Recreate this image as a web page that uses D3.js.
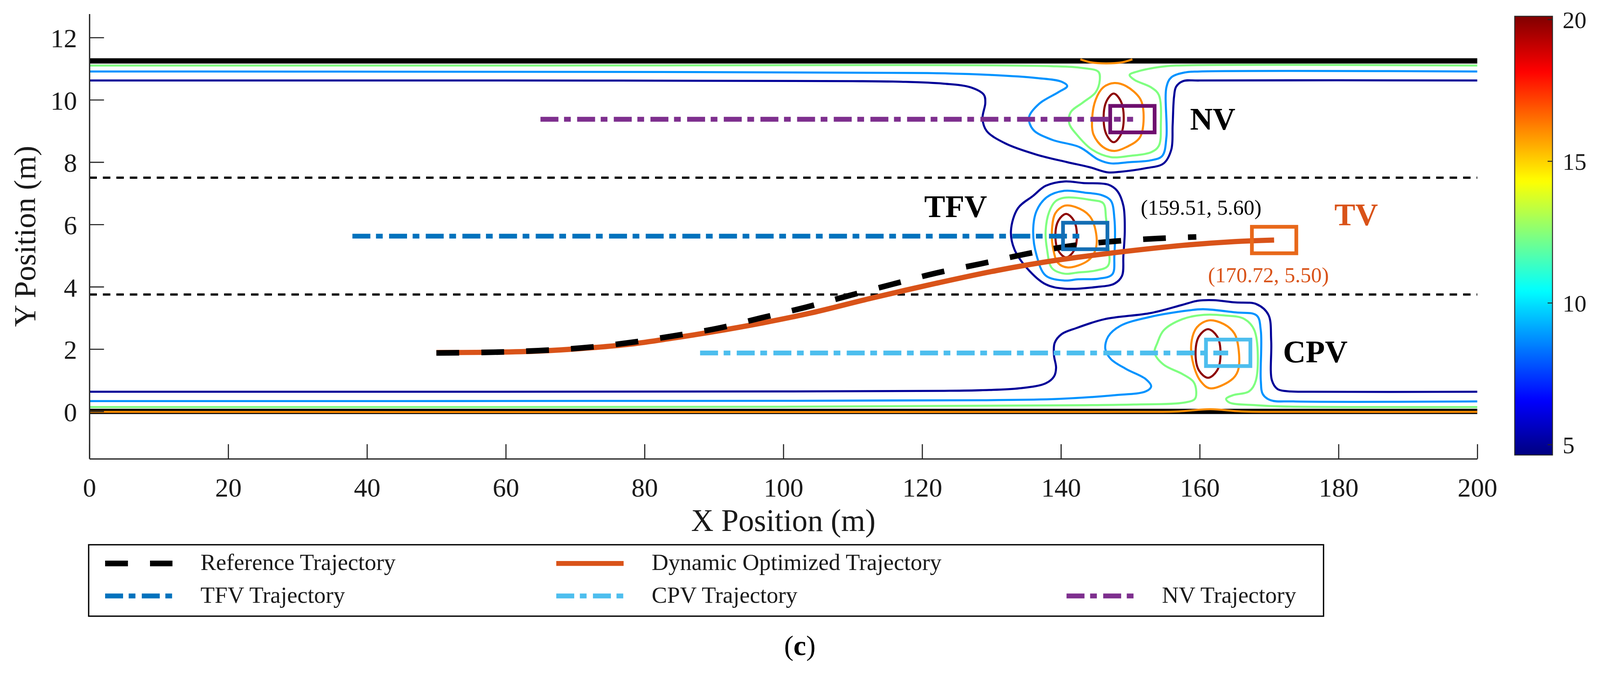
<!DOCTYPE html>
<html>
<head>
<meta charset="utf-8">
<script src="https://cdn.jsdelivr.net/npm/d3@7"></script>
<style>
  html, body { margin: 0; padding: 0; background: #fff; overflow: hidden; width: 100%; height: 100%; }
  #chart svg { display: block; width: 100vw; height: 100vh; }
  text { font-family: "Liberation Serif", "Times New Roman", serif; }
</style>
</head>
<body>
<div id="chart"></div>
<script>
// ---------- data ----------
const xTicks = [0, 20, 40, 60, 80, 100, 120, 140, 160, 180, 200];
const yTicks = [0, 2, 4, 6, 8, 10, 12];
const cbTicks = [5, 10, 15, 20];
const cbRange = [4.63, 20.11];

const roadEdges = [0, 11.25];
const laneLines = [3.75, 7.5];

// vehicles: NV, TFV, CPV, TV
const vehNames = ["NV", "TFV", "CPV", "TV"];
const vehX = [150.3, 143.5, 164.1, 170.72];
const vehY = [9.38, 5.63, 1.88, 5.50];
const vehLen = 6.4;
const vehWid = 0.85;

// trajectories
const refTraj = [[50, 1.875], [58.2, 1.9], [64.7, 1.95], [71.1, 2.04], [77.6, 2.2], [84.1, 2.42],
  [90.4, 2.66], [96.8, 3.0], [103.2, 3.34], [109.2, 3.7], [115.7, 4.08], [122, 4.44],
  [128.5, 4.74], [134.7, 5.04], [141, 5.3], [147.7, 5.46], [153.9, 5.55], [159.51, 5.6]];
const optTraj = [[50, 1.89], [58, 1.9], [65, 1.94], [71, 2.02], [78, 2.16], [84, 2.35],
  [90, 2.56], [97, 2.84], [104, 3.16], [112.8, 3.64], [121.8, 4.1], [130.7, 4.52],
  [139.6, 4.86], [148.7, 5.12], [157.6, 5.33], [165, 5.45], [170.72, 5.5]];
const tfvTraj = [[37.9, 5.625], [143.5, 5.625]];
const cpvTraj = [[88, 1.875], [164.1, 1.875]];
const nvTraj = [[65, 9.375], [150.4, 9.375]];

// risk-field contour levels and the traced contour lines
const levels = [5.0, 8.8, 12.37, 16.05, 19.9];

const navyUpper = [[0, 10.62], [60, 10.62], [110, 10.6], [117, 10.58], [123, 10.52], [127, 10.4],
  [128.9, 10.16], [129.1, 9.9], [128.7, 9.4], [129.3, 9.0], [132, 8.6], [136.5, 8.24],
  [140.9, 8.0], [144.1, 7.84], [146.8, 7.67], [148.5, 7.69], [152.1, 7.8], [154.8, 7.96],
  [155.9, 8.4], [156.1, 9.2], [156.3, 10.1], [156.6, 10.42], [157.6, 10.6], [160, 10.62], [200, 10.62]];
const navyTfv = [[140.5, 7.38], [143.2, 7.33], [146.8, 7.28], [148.1, 7.08], [149, 6.6], [149.2, 5.8],
  [149, 5.0], [148.8, 4.35], [147.7, 4.1], [145, 3.99], [140.5, 3.94], [137.8, 4.08], [135.1, 4.6],
  [133.3, 5.2], [132.8, 5.8], [133.8, 6.52], [136, 6.92], [137.8, 7.24]];
const navyLower = [[0, 0.63], [100, 0.64], [123, 0.66], [128.5, 0.68], [134, 0.74], [137.8, 0.9],
  [139, 1.12], [139.3, 1.4], [139, 1.8], [139.1, 2.2], [140.1, 2.48], [142.3, 2.68], [146.3, 2.96],
  [153, 3.16], [157.5, 3.42], [159.7, 3.55], [162, 3.57], [165, 3.5], [168.2, 3.44], [169.9, 3.1],
  [170.3, 2.26], [170.4, 1.0], [171.2, 0.72], [172.5, 0.65], [176, 0.63], [200, 0.63]];

const blueUpper = [[0, 10.91], [60, 10.9], [120.8, 10.86], [129.8, 10.8], [136.5, 10.7], [140.1, 10.58],
  [140.9, 10.44], [139.6, 10.24], [136.9, 9.88], [135.4, 9.44], [136, 9.04], [138.7, 8.72],
  [142.7, 8.48], [145.4, 8.08], [147.2, 7.96], [149.9, 8.0], [153, 8.06], [154.6, 8.2], [155.2, 8.8],
  [155.2, 10.4], [155.9, 10.72], [157.9, 10.88], [160, 10.91], [200, 10.91]];
const blueTfv = [[140.5, 7.08], [143.5, 7.02], [145.9, 6.94], [147.2, 6.76], [147.7, 6.2], [147.7, 5.0],
  [147.4, 4.4], [145.4, 4.26], [142.5, 4.24], [140.5, 4.2], [137.8, 4.36], [136.5, 5.0], [136, 5.8],
  [136.5, 6.44], [138, 6.88]];
const blueLower = [[0, 0.33], [100, 0.34], [128.5, 0.36], [139.5, 0.4], [147.7, 0.52], [152.2, 0.64],
  [153, 0.8], [152.2, 1.04], [149.4, 1.36], [147.2, 1.68], [146.4, 2.0], [146.8, 2.4], [148.6, 2.75],
  [153, 3.04], [158.4, 3.24], [160.5, 3.28], [165, 3.18], [168.2, 3.08], [168.8, 2.6], [168.8, 1.0],
  [169.1, 0.55], [170.2, 0.36], [173.5, 0.32], [200, 0.32]];

const greenUpper = [[0, 11.1], [60, 11.1], [138.7, 11.08], [143.2, 11.02], [145.4, 10.9], [145.6, 10.64],
  [145, 10.24], [143.2, 9.92], [141.4, 9.6], [141.2, 9.24], [142.3, 8.88], [144.5, 8.4], [147.2, 8.16],
  [149.9, 8.2], [153, 8.32], [154.1, 8.52], [154.4, 9.2], [154.1, 10.16], [153, 10.4], [150.6, 10.64],
  [149.9, 10.8], [151.2, 10.92], [154.4, 11.06], [156.6, 11.1], [200, 11.1]];
const greenTfv = [[140.5, 6.86], [144.5, 6.78], [146.1, 6.68], [146.5, 6.2], [146.8, 5.4], [146.8, 4.68],
  [145, 4.52], [142.5, 4.46], [140.5, 4.42], [138.7, 4.6], [138, 5.2], [137.8, 5.8], [138.3, 6.4],
  [139.2, 6.74]];
const greenLower = [[0, 0.14], [100, 0.15], [143.45, 0.2], [150.5, 0.22], [157.7, 0.28], [159.3, 0.4],
  [159.5, 0.64], [159.1, 0.95], [157.5, 1.2], [154.8, 1.5], [153.5, 1.88], [153.9, 2.2], [154.8, 2.6],
  [157.5, 2.96], [160.6, 3.1], [163.5, 3.08], [166.4, 2.97], [167.9, 2.59], [168.1, 1.0], [167.1, 0.64],
  [164.8, 0.52], [163.8, 0.4], [164.3, 0.28], [168.1, 0.2], [171.9, 0.16], [200, 0.14]];

const orangeNv = [[147.7, 10.54], [149.4, 10.44], [151.4, 10.04], [151.9, 9.6], [151.4, 8.8], [149.4, 8.48],
  [147.7, 8.36], [146.1, 8.48], [144.7, 8.88], [144.5, 9.4], [145, 10.0], [146.1, 10.4]];
const orangeTfv = [[140.5, 6.6], [142.1, 6.56], [144.1, 6.28], [145, 5.8], [145, 5.2], [143.9, 4.84],
  [141, 4.62], [139.6, 4.76], [138.9, 5.2], [138.7, 5.8], [139.2, 6.36]];
const orangeCpv = [[161.3, 2.92], [163.5, 2.8], [165, 2.5], [165.6, 2.0], [165.5, 1.3], [164.5, 1.0],
  [161.5, 0.74], [160.2, 0.95], [159.1, 1.5], [158.8, 2.2], [159.6, 2.7]];
const orangeTop = [[142.8, 11.3], [144.4, 11.2], [146.5, 11.17], [148.7, 11.2], [150.3, 11.3]];
const orangeBottom = [[0, -0.015], [150, -0.015], [157, 0.0], [161.5, 0.07], [166, 0.0], [175, -0.015], [200, -0.015]];

const redNv = [[147.6, 10.2], [148.6, 9.97], [149.05, 9.42], [148.6, 8.87], [147.6, 8.64], [146.6, 8.87],
  [146.15, 9.42], [146.6, 9.97]];
const redTfv = [[140.75, 6.34], [141.85, 6.13], [142.3, 5.64], [141.85, 5.15], [140.75, 4.94], [139.65, 5.15],
  [139.2, 5.64], [139.65, 6.13]];
const redCpv = [[161.2, 2.64], [162.5, 2.41], [163.0, 1.86], [162.5, 1.31], [161.2, 1.08], [159.9, 1.31],
  [159.4, 1.86], [159.9, 2.41]];

// annotations
const noteText = ["NV", "TFV", "TV", "CPV", "(159.51, 5.60)", "(170.72, 5.50)"];
const noteX = [158.6, 120.3, 179.4, 172.0, 151.5, 161.2];
const noteY = [9.04, 6.24, 5.98, 1.58, 6.31, 4.15];

const legendLabels = ["Reference Trajectory", "Dynamic Optimized Trajectory", "TFV Trajectory", "CPV Trajectory", "NV Trajectory"];

// ---------- setup ----------
const W = 4277, H = 1793;
const TXT = "#1a1a1a";
const AX = "#262626";
const SERIF = "'Liberation Serif', 'Times New Roman', serif";

const x = d3.scaleLinear([0, 200], [239, 3949]);
const y = d3.scaleLinear([-1.52, 12.76], [1227, 37]);
const cbY = d3.scaleLinear(cbRange, [1217, 43.5]);

function jet(t) {
  t = Math.max(0, Math.min(1, t));
  const f = v => Math.round(255 * Math.max(0, Math.min(1, v)));
  return `rgb(${f(1.5 - Math.abs(4 * t - 3))},${f(1.5 - Math.abs(4 * t - 2))},${f(1.5 - Math.abs(4 * t - 1))})`;
}
const colorOf = v => jet((v - cbRange[0]) / (cbRange[1] - cbRange[0]));

// scale to the window width and hug the top edge
const svg = d3.create("svg")
  .attr("viewBox", `0 0 ${W} ${H}`)
  .attr("preserveAspectRatio", "xMidYMin meet");
svg.append("rect").attr("width", W).attr("height", H).attr("fill", "#fff");

const defs = svg.append("defs");
defs.append("clipPath").attr("id", "plot")
  .append("rect").attr("x", x(0)).attr("y", y(12.76)).attr("width", x(200) - x(0)).attr("height", y(-1.52) - y(12.76));

const plot = svg.append("g").attr("clip-path", "url(#plot)");

const openLine = d3.line().x(d => x(d[0])).y(d => y(d[1])).curve(d3.curveCatmullRom.alpha(0.5));
const closedLine = d3.line().x(d => x(d[0])).y(d => y(d[1])).curve(d3.curveCatmullRomClosed.alpha(0.5));
const straight = d3.line().x(d => x(d[0])).y(d => y(d[1]));

// road edges (thick black)
plot.selectAll(".edge").data(roadEdges).join("line")
  .attr("x1", x(0)).attr("x2", x(200))
  .attr("y1", d => y(d)).attr("y2", d => y(d))
  .attr("stroke", "#000").attr("stroke-width", 14);

// contour lines
const contourList = [
  [levels[0], navyUpper, false], [levels[0], navyTfv, true], [levels[0], navyLower, false],
  [levels[1], blueUpper, false], [levels[1], blueTfv, true], [levels[1], blueLower, false],
  [levels[2], greenUpper, false], [levels[2], greenTfv, true], [levels[2], greenLower, false],
  [levels[3], orangeNv, true], [levels[3], orangeTfv, true], [levels[3], orangeCpv, true],
  [levels[3], orangeTop, false], [levels[3], orangeBottom, false],
  [levels[4], redNv, true], [levels[4], redTfv, true], [levels[4], redCpv, true]
];
plot.selectAll(".contour").data(contourList).join("path")
  .attr("d", d => (d[2] ? closedLine : openLine)(d[1]))
  .attr("fill", "none")
  .attr("stroke", d => colorOf(d[0]))
  .attr("stroke-width", 5.5)
  .attr("stroke-linejoin", "round");

// lane markings
plot.selectAll(".lane").data(laneLines).join("line")
  .attr("x1", x(0)).attr("x2", x(200))
  .attr("y1", d => y(d)).attr("y2", d => y(d))
  .attr("stroke", "#000").attr("stroke-width", 6)
  .attr("stroke-dasharray", "20,16");

// trajectories
const dashDot = "48,15,18,17";
plot.append("path").attr("d", openLine(optTraj)).attr("fill", "none")
  .attr("stroke", "#d95319").attr("stroke-width", 14);
plot.append("path").attr("d", openLine(refTraj)).attr("fill", "none")
  .attr("stroke", "#000").attr("stroke-width", 15).attr("stroke-dasharray", "61,59");
plot.append("path").attr("d", straight(tfvTraj)).attr("fill", "none")
  .attr("stroke", "#0072bd").attr("stroke-width", 13).attr("stroke-dasharray", dashDot);
plot.append("path").attr("d", straight(cpvTraj)).attr("fill", "none")
  .attr("stroke", "#4dbeee").attr("stroke-width", 13).attr("stroke-dasharray", dashDot);
plot.append("path").attr("d", straight(nvTraj)).attr("fill", "none")
  .attr("stroke", "#7e2f8e").attr("stroke-width", 13).attr("stroke-dasharray", dashDot);

// vehicle boxes
const vehColors = ["#6e0f6e", "#146eb4", "#4dbeee", "#e8681a"];
plot.selectAll(".veh").data(vehNames).join("rect")
  .attr("x", (d, i) => x(vehX[i] - vehLen / 2))
  .attr("y", (d, i) => y(vehY[i] + vehWid / 2))
  .attr("width", x(vehLen) - x(0))
  .attr("height", y(0) - y(vehWid))
  .attr("fill", "none")
  .attr("stroke", (d, i) => vehColors[i])
  .attr("stroke-width", 10);

// text helper
function label(g, px, py, str, size, opts = {}) {
  return g.append("text")
    .attr("x", px).attr("y", py)
    .attr("font-size", size)
    .attr("font-family", SERIF)
    .attr("text-anchor", opts.anchor || "start")
    .attr("font-weight", opts.bold ? "bold" : "normal")
    .attr("fill", opts.fill || TXT)
    .text(str);
}

// annotations
const noteStyle = [
  { size: 84, bold: true, fill: "#000" }, { size: 84, bold: true, fill: "#000" },
  { size: 84, bold: true, fill: "#d95319" }, { size: 84, bold: true, fill: "#000" },
  { size: 57, fill: "#000" }, { size: 57, fill: "#d95319" }
];
noteText.forEach((t, i) => label(svg, x(noteX[i]), y(noteY[i]), t, noteStyle[i].size, noteStyle[i]));

// axes
const gx = svg.append("g").attr("transform", `translate(0,${y(-1.52)})`)
  .call(d3.axisBottom(x).tickValues(xTicks).tickSizeInner(-39).tickSizeOuter(0).tickFormat(d3.format("d")))
  .attr("font-family", SERIF).attr("font-size", 71);
gx.select(".domain").attr("stroke", AX).attr("stroke-width", 3.5);
gx.selectAll(".tick line").attr("stroke", AX).attr("stroke-width", 3);
gx.selectAll(".tick text")
  .attr("dy", null).attr("y", 101)
  .attr("fill", TXT)
  .style("font-family", SERIF);

const gy = svg.append("g").attr("transform", `translate(${x(0)},0)`)
  .call(d3.axisLeft(y).tickValues(yTicks).tickSizeInner(-39).tickSizeOuter(0).tickFormat(d3.format("d")))
  .attr("font-family", SERIF).attr("font-size", 71);
gy.select(".domain").attr("stroke", AX).attr("stroke-width", 3.5);
gy.selectAll(".tick line").attr("stroke", AX).attr("stroke-width", 3);
gy.selectAll(".tick text")
  .attr("x", -33).attr("dy", "0.36em")
  .attr("fill", TXT)
  .style("font-family", SERIF);

label(svg, (x(0) + x(200)) / 2, 1420, "X Position (m)", 83, { anchor: "middle" });
svg.append("text")
  .attr("transform", `translate(94,${(y(12.76) + y(-1.52)) / 2}) rotate(-90)`)
  .attr("font-size", 82).attr("font-family", SERIF).attr("text-anchor", "middle").attr("fill", TXT)
  .text("Y Position (m)");

// colorbar
const grad = defs.append("linearGradient").attr("id", "jet")
  .attr("x1", 0).attr("y1", 1).attr("x2", 0).attr("y2", 0);
grad.selectAll("stop").data(d3.range(0, 1.0001, 0.01)).join("stop")
  .attr("offset", d => d).attr("stop-color", d => jet(d));
svg.append("rect")
  .attr("x", 4049).attr("y", cbY(cbRange[1])).attr("width", 101)
  .attr("height", cbY(cbRange[0]) - cbY(cbRange[1]))
  .attr("fill", "url(#jet)").attr("stroke", AX).attr("stroke-width", 2.5);
const gc = svg.append("g").attr("transform", "translate(4150,0)")
  .call(d3.axisRight(cbY).tickValues(cbTicks).tickSizeInner(-13).tickSizeOuter(0))
  .attr("font-family", SERIF).attr("font-size", 64);
gc.select(".domain").remove();
gc.selectAll(".tick line").attr("stroke", AX).attr("stroke-width", 2.5);
gc.selectAll(".tick text")
  .attr("x", 27).attr("dy", "0.35em")
  .attr("fill", TXT)
  .style("font-family", SERIF);

// legend
const leg = svg.append("g");
leg.append("rect").attr("x", 237).attr("y", 1457).attr("width", 3301).attr("height", 191)
  .attr("fill", "#fff").attr("stroke", "#000").attr("stroke-width", 3.5);
const legCol = [281, 1487, 281, 1487, 2851];
const legRow = [1525, 1525, 1612, 1612, 1612];
const legStroke = ["#000", "#d95319", "#0072bd", "#4dbeee", "#7e2f8e"];
const legDash = ["61,59", null, dashDot, dashDot, dashDot];
legendLabels.forEach((t, i) => {
  leg.append("line")
    .attr("x1", legCol[i]).attr("x2", legCol[i] + 180)
    .attr("y1", legRow[i] - 18).attr("y2", legRow[i] - 18)
    .attr("stroke", legStroke[i]).attr("stroke-width", i === 0 ? 15 : 13)
    .attr("stroke-dasharray", legDash[i]);
  label(leg, legCol[i] + 255, legRow[i], t, 62);
});

// panel tag
const tag = svg.append("text")
  .attr("x", 2138).attr("y", 1752)
  .attr("font-size", 76).attr("font-family", SERIF).attr("text-anchor", "middle").attr("fill", "#000");
tag.append("tspan").text("(");
tag.append("tspan").attr("font-weight", "bold").text("c");
tag.append("tspan").text(")");

document.getElementById("chart").appendChild(svg.node());
</script>
</body>
</html>
